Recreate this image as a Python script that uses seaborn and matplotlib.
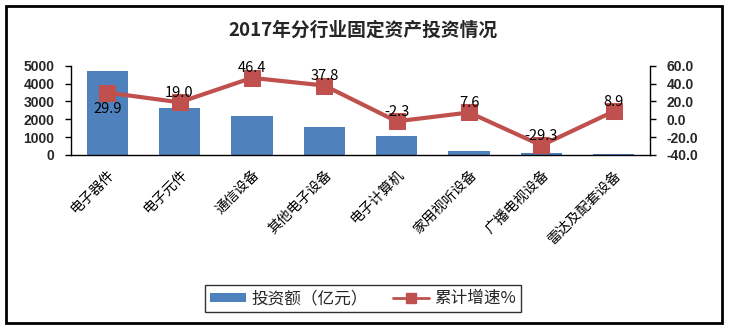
import matplotlib
matplotlib.use("Agg")
import matplotlib.pyplot as plt
import seaborn as sns
import pandas as pd
import numpy as np
from matplotlib.patches import Rectangle
from matplotlib.lines import Line2D

categories = ["电子器件", "电子元件", "通信设备", "其他电子设备", "电子计算机",
              "家用视听设备", "广播电视设备", "雷达及配套设备"]
investment = [4720, 2640, 2190, 1570, 1070, 240, 110, 50]
growth = [29.9, 19.0, 46.4, 37.8, -2.3, 7.6, -29.3, 8.9]
left_ticks = [0, 1000, 2000, 3000, 4000, 5000]
right_ticks = [-40, -20, 0, 20, 40, 60]

sns.set_theme(style="white")
plt.rcParams['font.family'] = ['Noto Sans CJK SC', 'DejaVu Sans']

BAR = "#4F81BD"
LINE = "#C0504D"
NUMFONT = ['Liberation Sans', 'DejaVu Sans']

fig = plt.figure(figsize=(7.29, 3.29), dpi=100)
ax = fig.add_axes([71/729, 1-155/329, (650-71)/729, (155-65.7)/329])

df = pd.DataFrame({"cat": categories, "inv": investment, "g": growth})
sns.barplot(data=df, x="cat", y="inv", color=BAR, width=0.57, ax=ax,
            saturation=1, edgecolor="none")
ax.set_ylim(0, 5000)
ax.set_xlim(-0.5, len(categories) - 0.5)
ax.set_yticks(left_ticks)
ax.set_yticklabels([str(t) for t in left_ticks], fontsize=10, fontweight="bold",
                   family=NUMFONT)
ax.set_xlabel("")
ax.set_ylabel("")
ax.tick_params(axis="y", direction="out", length=4, width=1, color="black", left=True, pad=8)
ax.tick_params(axis="x", length=0, pad=9)
ax.set_xticks(range(len(categories)))
ax.set_xticklabels(categories, rotation=45, ha="right", rotation_mode="anchor",
                   fontsize=10, color="black")
for s in ["top", "right"]:
    ax.spines[s].set_visible(False)
for s in ["left", "bottom"]:
    ax.spines[s].set_color("black")
    ax.spines[s].set_linewidth(1)

ax2 = ax.twinx()
sns.lineplot(data=df, x="cat", y="g", color=LINE, marker="s", markersize=11,
             markeredgecolor=LINE, linewidth=3, sort=False, ax=ax2)
ax2.set_ylim(-40, 60)
ax2.set_yticks(right_ticks)
ax2.set_yticklabels([f"{t:.1f}" for t in right_ticks], fontsize=10, fontweight="bold",
                    family=NUMFONT)
ax2.set_ylabel("")
ax2.tick_params(axis="y", direction="out", length=4, width=1, color="black", right=True, pad=8)
for s in ["top", "left", "bottom"]:
    ax2.spines[s].set_visible(False)
ax2.spines["right"].set_color("black")
ax2.spines["right"].set_linewidth(1)
ax2.set_xlim(-0.5, len(categories) - 0.5)

for i, v in enumerate(growth):
    if i == 0:
        ax2.annotate(f"{v:.1f}", (i, v), xytext=(0, -7), textcoords="offset points",
                     ha="center", va="top", fontsize=10.5, color="black")
    else:
        ax2.annotate(f"{v:.1f}", (i, v), xytext=(0, 2), textcoords="offset points",
                     ha="center", va="bottom", fontsize=10.5, color="black")

fig.text(363/729, 1-30/329, "2017年分行业固定资产投资情况", ha="center", va="center",
         fontsize=13.5, fontweight="bold")

handles = [Rectangle((0, 0), 1, 1, facecolor=BAR, edgecolor="none"),
           Line2D([0], [0], color=LINE, lw=2, marker="s", markersize=7)]
leg = fig.legend(handles, ["投资额（亿元）", "累计增速%"], loc="center",
                 bbox_to_anchor=(363/729, 1-298.5/329), ncol=2, frameon=True,
                 fontsize=12, handlelength=2.2, handleheight=0.45, columnspacing=1.5,
                 handletextpad=0.3, borderpad=0.3, borderaxespad=0,
                 fancybox=False, edgecolor="black")
leg.get_frame().set_linewidth(1)

fig.patches.append(Rectangle((6/729, 6/329), 716/729, 317/329, transform=fig.transFigure,
                             fill=False, edgecolor="black", linewidth=2))

fig.savefig("out.png", dpi=100, facecolor="white")
